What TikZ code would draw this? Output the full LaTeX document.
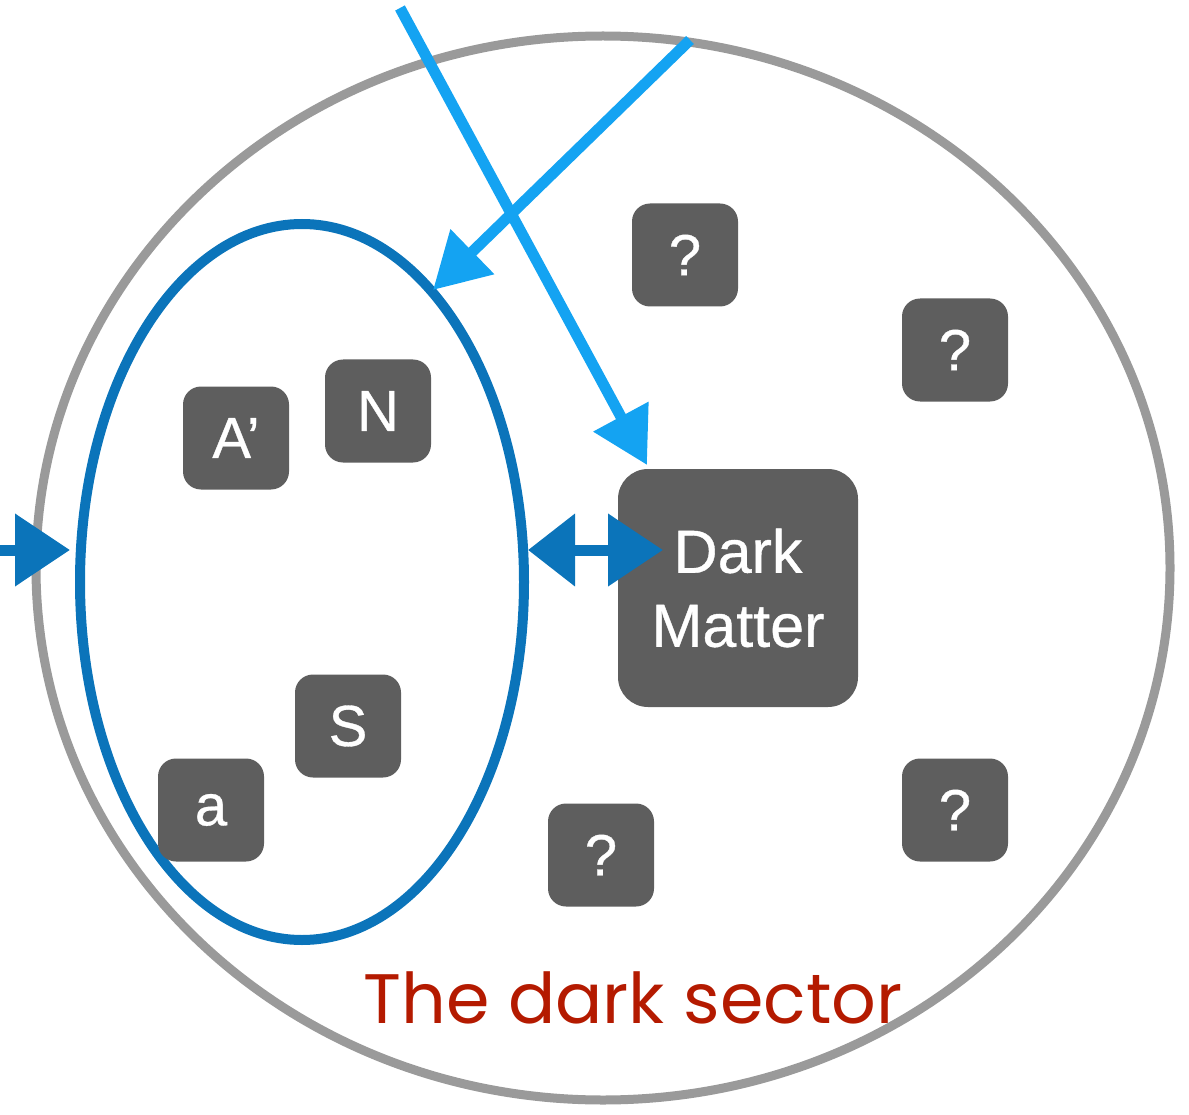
\documentclass[tikz,border=0pt]{standalone}
\usepackage{fontspec}
\setmainfont{Liberation Sans}
\newfontfamily\boxfont{Liberation Sans}[FakeBold=0.6]
\newfontfamily\titlefont{Poppins}
\usetikzlibrary{arrows.meta}
\definecolor{boxgrey}{HTML}{5E5E5E}
\definecolor{ringgrey}{HTML}{9A9A9A}
\definecolor{darkblue}{HTML}{0B74BA}
\definecolor{lightblue}{HTML}{14A3F2}
\definecolor{titlered}{HTML}{B41A00}
\tikzset{
  smallbox/.style={fill=boxgrey, rounded corners=18pt, minimum width=106pt, minimum height=103pt, inner sep=0pt, text=white, font=\boxfont\fontsize{58}{60}\selectfont},
  bigbox/.style={fill=boxgrey, rounded corners=30pt, minimum width=240pt, minimum height=238pt, inner sep=0pt, text=white, align=center, font=\boxfont\fontsize{61}{74}\selectfont},
  lbarrow/.style={lightblue, line width=11pt, -{Triangle[length=55pt,width=60pt]}},
  dbarrow/.style={darkblue, line width=11pt, -{Triangle[length=55pt,width=70pt]}},
  dbdouble/.style={darkblue, line width=11pt, {Triangle[length=47pt,width=70pt]}-{Triangle[length=55pt,width=70pt]}},
}
\begin{document}
\begin{tikzpicture}[x=1pt,y=-1pt]
\useasboundingbox (0,0) rectangle (1189,1115);
% outer dark-sector ring
\draw[ringgrey, line width=9pt] (603,568) ellipse [x radius=567pt, y radius=532pt];
% inner blue ellipse
\draw[darkblue, line width=10pt] (302,582) ellipse [x radius=222pt, y radius=358pt];
% boxes
\node[smallbox] (q1) at (685,255) {?};
\node[smallbox] (q2) at (955,350) {?};
\node[smallbox] (n) at (378,411) {N};
\node[smallbox] (ap) at (236,438) {A’};
\node[bigbox] (dm) at (738,588) {Dark\\Matter};
\node[smallbox] (s) at (348,726) {S};
\node[smallbox] (a) at (211,810) {a};
\node[smallbox] (q3) at (601,855) {?};
\node[smallbox] (q4) at (955,810) {?};
% title
\node[text=titlered, font=\titlefont\fontsize{70}{80}\selectfont, inner sep=0pt] (title) at (633,998) {The dark sector};
% arrow coordinates
\coordinate (l1s) at (400,8);
\coordinate (l1e) at (647,465);
\coordinate (l2s) at (690,40);
\coordinate (l2e) at (433,290);
\coordinate (ls) at (0,550);
\coordinate (le) at (70,550);
\coordinate (ds) at (528,550);
\coordinate (de) at (663,550);
% arrows
\draw[lbarrow] (l1s) -- (l1e);
\draw[lbarrow] (l2s) -- (l2e);
\draw[dbarrow] (ls) -- (le);
\draw[dbdouble] (ds) -- (de);
\end{tikzpicture}
\end{document}
